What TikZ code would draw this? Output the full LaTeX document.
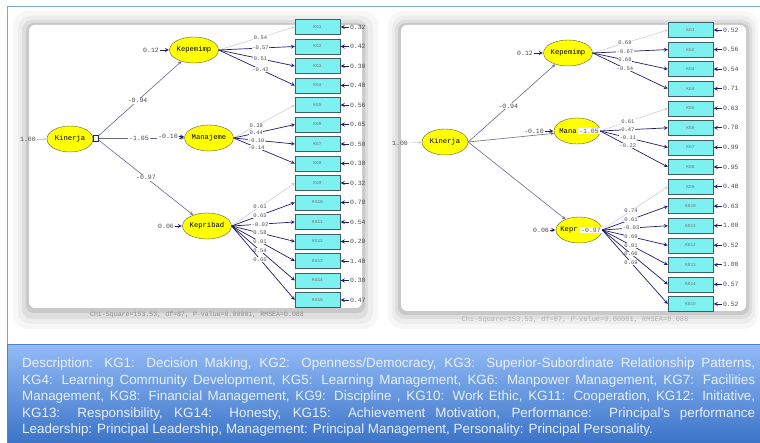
\documentclass[tikz,border=0pt]{standalone}
\usepackage{fontspec}
\setmainfont{Liberation Sans}
\newfontfamily\lisrelfont{Liberation Mono}
\usetikzlibrary{shapes.geometric}
\definecolor{latfill}{RGB}{255,255,0}
\definecolor{latline}{RGB}{95,95,60}
\definecolor{obsfill}{RGB}{125,240,240}
\definecolor{obsline}{RGB}{60,95,105}
\definecolor{pathnavy}{RGB}{30,30,105}
\definecolor{pathgray}{RGB}{105,105,140}
\definecolor{fixgray}{RGB}{200,200,208}
\definecolor{frameblue}{RGB}{125,165,222}
\definecolor{desctop}{RGB}{146,186,246}
\definecolor{descbot}{RGB}{60,116,200}
\definecolor{descedge}{RGB}{80,130,210}
\definecolor{desctext}{RGB}{232,240,252}
\begin{document}
\begin{tikzpicture}[x=1pt,y=-1pt,>=stealth,
  latent/.style={ellipse,draw=latline,fill=latfill,minimum width=46pt,minimum height=26pt,inner sep=0pt,font=\lisrelfont\fontsize{7.2}{8}\selectfont},
  kgbox/.style={draw=obsline,fill=obsfill,minimum width=45pt,minimum height=15pt,inner sep=0pt,font=\lisrelfont\fontsize{4.5}{5}\selectfont,text=black!55},
  coef/.style={font=\lisrelfont\fontsize{5.5}{6}\selectfont,text=black!70,inner sep=0.5pt},
  onpath/.style={coef,fill=white},
  bignum/.style={font=\lisrelfont\fontsize{6.5}{7}\selectfont,text=black!70,inner sep=0.8pt},
  load/.style={->,pathnavy,line width=0.7pt},
  fixload/.style={->,fixgray,line width=0.5pt},
  struct/.style={->,pathgray,line width=0.6pt},
  errarrow/.style={->,pathnavy,line width=0.8pt,shorten >=0.5pt},
  fitline/.style={font=\lisrelfont\fontsize{6.6}{7}\selectfont,text=black!45}]
\useasboundingbox (0,0) rectangle (760,443);
\draw[frameblue,line width=1pt] (7,345) -- (7,7) -- (760,7);

% panel frames
\fill[black!3,rounded corners=14pt] (13,11) rectangle (378,329);
\fill[black!7,rounded corners=12pt] (18,16) rectangle (373,324);
\fill[black!13,rounded corners=10pt] (22,20) rectangle (368,319);
\fill[black!21,rounded corners=8pt] (26,23) rectangle (365,313);
\fill[white,rounded corners=6pt] (29,25) rectangle (362,308);
\fill[black!3,rounded corners=14pt] (388,11) rectangle (758,329);
\fill[black!7,rounded corners=12pt] (392,16) rectangle (755,324);
\fill[black!13,rounded corners=10pt] (395,20) rectangle (752,319);
\fill[black!21,rounded corners=8pt] (398,23) rectangle (749,315);
\fill[white,rounded corners=6pt] (401,25) rectangle (746,311);

% left model
\node[latent] (kin1) at (70,139) {Kinerja};
\node[draw=pathnavy,minimum width=5pt,minimum height=6pt,inner sep=0pt] (kmark) at (96,138) {};
\node[latent] (kep1) at (194,50) {Kepemimp};
\node[latent] (man1) at (209,138) {Manajeme};
\node[latent] (pri1) at (207,226) {Kepribad};
\node[bignum] (v1) at (28,139) {1.00};
\draw[->,fixgray] (v1) -- (kin1);
\draw[struct] (kmark) -- node[bignum,fill=white,pos=.47]{-0.94} (kep1);
\draw[struct] (kmark) -- node[bignum,fill=white,pos=.47]{-1.05} (man1);
\draw[struct] (kmark) -- node[bignum,fill=white,pos=.5]{-0.97} (pri1);
\node[bignum] (ekep1) at (151,50) {0.12};
\node[bignum,fill=white] (eman1) at (168,136) {-0.10};
\node[bignum] (epri1) at (166,226) {0.06};
\draw[errarrow] (ekep1) -- (kep1);
\draw[errarrow] (eman1) -- (man1);
\draw[errarrow] (epri1) -- (pri1);
\begin{scope}
\clip (0,0) rectangle (364,443);
\foreach \i/\e [evaluate=\i as \yy using 27+19.5*(\i-1)] in {1/0.32,2/0.42,3/0.30,4/0.40,5/0.56,6/0.65,7/0.50,8/0.30,9/0.32,10/0.70,11/0.54,12/0.20,13/1.40,14/0.30,15/0.47}{
  \node[kgbox] (l\i) at (317.5,\yy) {KG\i};
  \node[bignum,anchor=west] (le\i) at (349,\yy) {\e};
  \draw[errarrow] (le\i.west) -- (l\i.east);
}
\end{scope}
\draw[fixload] (kep1.east) -- node[onpath,pos=.55]{0.54} (l1.west);
\foreach \i/\v in {2/-0.57,3/0.51,4/-0.42}
  \draw[load] (kep1.east) -- node[onpath,pos=.55]{\v} (l\i.west);
\draw[fixload] (man1.east) -- node[onpath,pos=.37]{0.38} (l5.west);
\foreach \i/\v in {6/0.44,7/-0.10,8/-0.14}
  \draw[load] (man1.east) -- node[onpath,pos=.37]{\v} (l\i.west);
\draw[fixload] (pri1.east) -- node[onpath,pos=.45]{0.61} (l9.west);
\foreach \i/\v in {10/0.65,11/-0.02,12/0.58,13/0.01,14/0.54,15/0.65}
  \draw[load] (pri1.east) -- node[onpath,pos=.45]{\v} (l\i.west);
\node[fitline] (fit1) at (197,315) {Chi-Square=153.53, df=87, P-value=0.00001, RMSEA=0.088};

% right model
\node[latent] (kin2) at (445,142) {Kinerja};
\node[latent] (kep2) at (568,53) {Kepemimp};
\node[latent] (man2) at (577,131) {};
\node[latent] (pri2) at (579,230) {};
\node[bignum] (v2) at (400,143) {1.00};
\draw[->,fixgray] (v2) -- (kin2);
\draw[struct] (kin2.east) -- node[bignum,fill=white,pos=.46]{-0.94} (kep2);
\draw[struct] (kin2.east) -- (man2);
\draw[struct] (kin2.east) -- (pri2);
\node[bignum] (ekep2) at (525,53) {0.12};
\node[bignum,fill=white] (eman2) at (534,131) {-0.10};
\node[bignum] (epri2) at (541,230) {0.06};
\draw[errarrow] (ekep2) -- (kep2);
\draw[errarrow] (eman2) -- (man2);
\draw[errarrow] (epri2) -- (pri2);
\foreach \i/\e [evaluate=\i as \yy using 30+19.57*(\i-1)] in {1/0.52,2/0.56,3/0.54,4/0.71,5/0.63,6/0.78,7/0.99,8/0.95,9/0.48,10/0.63,11/1.00,12/0.52,13/1.00,14/0.57,15/0.52}{
  \node[kgbox] (r\i) at (690.5,\yy) {KG\i};
  \node[bignum,anchor=west] (re\i) at (722,\yy) {\e};
  \draw[errarrow] (re\i.west) -- (r\i.east);
}
\draw[fixload] (kep2.east) -- node[onpath,pos=.43]{0.69} (r1.west);
\foreach \i/\v in {2/-0.67,3/0.68,4/-0.54}
  \draw[load] (kep2.east) -- node[onpath,pos=.43]{\v} (r\i.west);
\draw[fixload] (man2.east) -- node[onpath,pos=.41]{0.61} (r5.west);
\foreach \i/\v in {6/0.47,7/-0.11,8/-0.22}
  \draw[load] (man2.east) -- node[onpath,pos=.41]{\v} (r\i.west);
\draw[fixload] (pri2.east) -- node[onpath,pos=.44]{0.74} (r9.west);
\foreach \i/\v in {10/0.61,11/-0.03,12/0.69,13/0.01,14/0.66,15/0.69}
  \draw[load] (pri2.east) -- node[onpath,pos=.44]{\v} (r\i.west);
\node[font=\lisrelfont\fontsize{7.2}{8}\selectfont] (mana) at (568,131) {Mana};
\node[bignum,fill=white] (pman2) at (589,131) {-1.05};
\node[font=\lisrelfont\fontsize{7.2}{8}\selectfont] (kepr) at (569,230) {Kepr};
\node[bignum,fill=white] (ppri2) at (591,230) {-0.97};
\node[fitline,text=black!30,font=\lisrelfont\fontsize{7}{8}\selectfont] (fit2) at (575,320) {Chi-Square=153.53, df=87, P-value=0.00001, RMSEA=0.088};

% description
\shade[top color=desctop,bottom color=descbot] (7,345) rectangle (760,443);
\draw[descedge,line width=1pt] (7,443) -- (7,345) -- (760,345);
\node[anchor=north west,text width=733pt,align=justify,inner sep=0pt,text=desctext,font=\fontsize{13.4}{16.5}\selectfont] (desc) at (22,358)
{Description: KG1: Decision Making, KG2: Openness/Democracy, KG3: Superior-Subordinate Relationship Patterns,\linebreak
KG4: Learning Community Development, KG5: Learning Management, KG6: Manpower Management, KG7: Facilities\linebreak
Management, KG8: Financial Management, KG9: Discipline , KG10: Work Ethic, KG11: Cooperation, KG12: Initiative,\linebreak
KG13: Responsibility, KG14: Honesty, KG15: Achievement Motivation, Performance: Principal's performance\linebreak
Leadership: Principal Leadership, Management: Principal Management, Personality: Principal Personality.};
\end{tikzpicture}
\end{document}
